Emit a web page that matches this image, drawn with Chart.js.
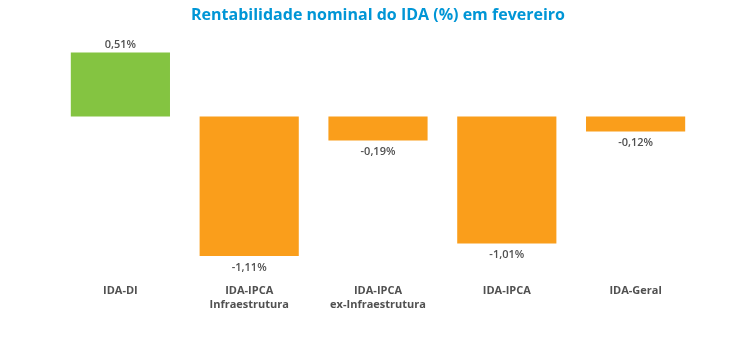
<!DOCTYPE html>
<html>
<head>
<meta charset="utf-8">
<script src="https://cdn.jsdelivr.net/npm/chart.js@4/dist/chart.umd.min.js"></script>
<style>
html,body{margin:0;padding:0;background:#fff;}
#wrap{width:750px;height:355px;position:relative;}
</style>
</head>
<body>
<div id="wrap"><canvas id="c"></canvas></div>
<script>
const categories = [["IDA-DI"], ["IDA-IPCA", "Infraestrutura"], ["IDA-IPCA", "ex-Infraestrutura"], ["IDA-IPCA"], ["IDA-Geral"]];
const values = [0.51, -1.11, -0.19, -1.01, -0.12];
const barColors = ["#84c441", "#fa9e1b", "#fa9e1b", "#fa9e1b", "#fa9e1b"];
const titleText = "Rentabilidade nominal do IDA (%) em fevereiro";

const fmt = v => v.toFixed(2).replace('.', ',') + '%';

const valueLabels = {
  id: 'valueLabels',
  afterDatasetsDraw(chart) {
    const ctx = chart.ctx;
    const meta = chart.getDatasetMeta(0);
    ctx.save();
    ctx.font = '600 11px "Open Sans", "Noto Sans", sans-serif';
    ctx.fillStyle = '#505050';
    ctx.textAlign = 'center';
    meta.data.forEach((bar, i) => {
      const v = values[i];
      if (v >= 0) {
        ctx.textBaseline = 'bottom';
        ctx.fillText(fmt(v), bar.x, bar.y - 2);
      } else {
        ctx.textBaseline = 'top';
        ctx.fillText(fmt(v), bar.x, bar.y + 6);
      }
    });
    ctx.restore();
  }
};

new Chart(document.getElementById('c'), {
  type: 'bar',
  data: {
    labels: categories,
    datasets: [{
      data: values,
      backgroundColor: barColors,
      borderWidth: 0,
      barPercentage: 0.77,
      categoryPercentage: 1
    }]
  },
  options: {
    responsive: true,
    maintainAspectRatio: false,
    animation: false,
    layout: { padding: { left: 56, right: 50, top: 6, bottom: 35 } },
    plugins: {
      legend: { display: false },
      tooltip: { enabled: false },
      title: {
        display: true,
        text: titleText,
        color: '#0096d6',
        font: { family: '"Open Sans", "Noto Sans", sans-serif', size: 16, weight: 'bold' },
        padding: { top: 0, bottom: 16 }
      }
    },
    scales: {
      x: {
        grid: { display: false, drawTicks: false },
        border: { display: false },
        ticks: {
          color: '#505050',
          padding: 8,
          maxRotation: 0,
          autoSkip: false,
          font: { family: '"Open Sans", "Noto Sans", sans-serif', size: 11, weight: 'bold', lineHeight: 1.3 }
        }
      },
      y: {
        display: false,
        min: -1.265,
        max: 0.6
      }
    }
  },
  plugins: [valueLabels]
});
</script>
</body>
</html>
